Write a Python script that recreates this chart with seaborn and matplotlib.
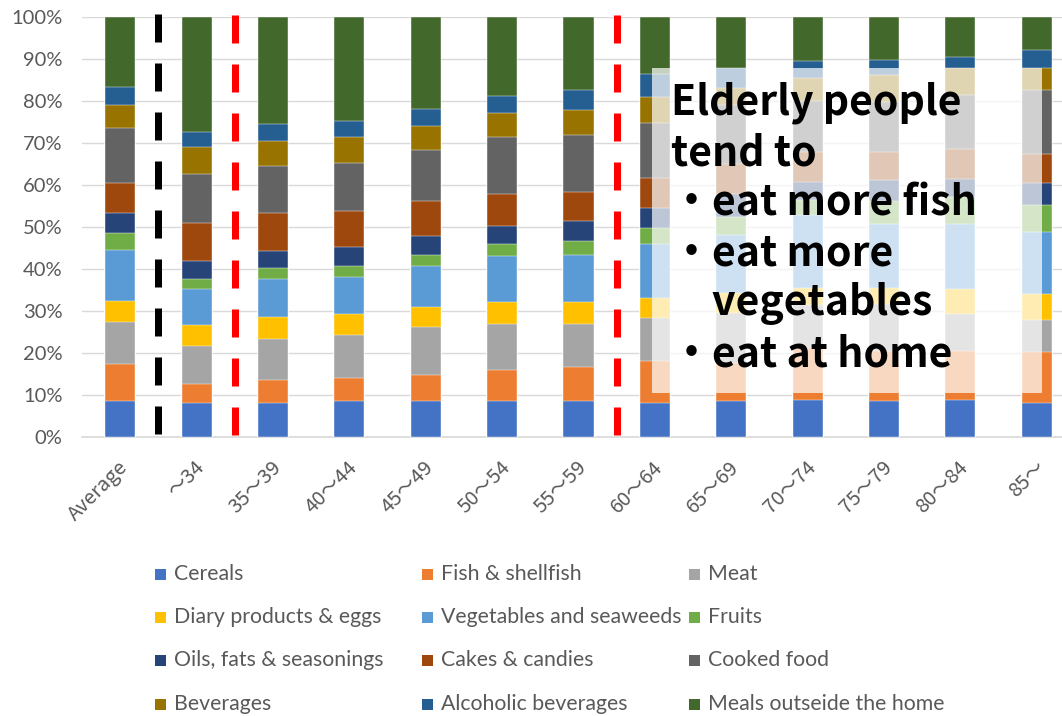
import numpy as np
import pandas as pd
import matplotlib
matplotlib.use("Agg")
import matplotlib.pyplot as plt
from matplotlib.patches import Rectangle
from matplotlib.transforms import ScaledTranslation
import seaborn as sns

# Household food expenditure composition (%) by age group of household head
age_groups = ["Average", "～34", "35～39", "40～44", "45～49", "50～54", "55～59",
              "60～64", "65～69", "70～74", "75～79", "80～84", "85～"]

items = ["Cereals", "Fish & shellfish", "Meat", "Diary products & eggs",
         "Vegetables and seaweeds", "Fruits", "Oils, fats & seasonings",
         "Cakes & candies", "Cooked food", "Beverages", "Alcoholic beverages",
         "Meals outseide the home"]

cereals    = [8.6, 8.1, 8.1, 8.5, 8.6, 8.6, 8.6, 8.0, 8.6, 8.7, 8.5, 8.8, 8.0]
fish       = [8.8, 4.5, 5.3, 5.5, 6.2, 7.3, 8.0, 10.0, 8.9, 12.3, 12.0, 11.7, 12.1]
meat       = [9.8, 9.1, 9.8, 10.3, 11.3, 11.0, 10.3, 10.3, 12.0, 10.3, 11.1, 8.8, 7.7]
dairy      = [5.1, 4.9, 5.2, 4.8, 4.8, 5.1, 5.1, 4.8, 4.8, 4.0, 3.8, 5.9, 6.2]
vegetables = [12.1, 8.6, 9.1, 9.0, 9.8, 11.0, 11.3, 12.8, 13.7, 17.4, 15.3, 15.5, 14.8]
fruits     = [4.1, 2.3, 2.6, 2.6, 2.6, 2.9, 3.4, 3.9, 4.4, 3.6, 5.5, 6.4, 6.3]
oils       = [4.7, 4.4, 4.0, 4.5, 4.4, 4.3, 4.7, 4.7, 5.4, 4.4, 5.0, 4.3, 5.2]
cakes      = [7.3, 8.9, 9.1, 8.5, 8.5, 7.7, 6.9, 7.1, 7.2, 7.1, 6.6, 7.2, 7.1]
cooked     = [12.9, 11.8, 11.3, 11.5, 12.0, 13.4, 13.6, 13.1, 14.0, 12.1, 11.9, 12.7, 15.1]
beverages  = [5.5, 6.4, 5.9, 6.1, 5.8, 5.7, 5.9, 6.1, 4.0, 5.4, 6.4, 6.4, 5.4]
alcohol    = [4.3, 3.6, 4.0, 3.9, 4.1, 4.0, 4.7, 5.5, 4.8, 4.2, 3.6, 2.8, 4.1]
meals_out  = [16.8, 27.4, 25.6, 24.8, 21.9, 19.0, 17.5, 13.7, 12.2, 10.5, 10.3, 9.5, 8.0]

colors = ["#4472C4", "#ED7D31", "#A5A5A5", "#FFC000", "#5B9BD5", "#70AD47",
          "#264478", "#9E480E", "#636363", "#997300", "#255E91", "#43682B"]

yticks = [0, 10, 20, 30, 40, 50, 60, 70, 80, 90, 100]

note_lines = ["Elderly people", "tend to", "・eat more fish", "・eat more",
              "\u3000vegetables", "・eat at home"]

series = [cereals, fish, meat, dairy, vegetables, fruits, oils, cakes,
          cooked, beverages, alcohol, meals_out]

# long-form table with cumulative tops per age group
df = pd.DataFrame({name: vals for name, vals in zip(items, series)}, index=age_groups)
cum = df.cumsum(axis=1)
long = cum.reset_index().melt(id_vars="index", var_name="item", value_name="top")
long = long.rename(columns={"index": "age"})

sns.set_style("white")
plt.rcParams["font.family"] = ["Lato", "Noto Sans CJK JP", "DejaVu Sans"]

W, H = 1062, 716
fig = plt.figure(figsize=(W / 100, H / 100), dpi=100)
ax_left, ax_right = 82, 1075
ax_top, ax_bottom = 16.7, 436.7
ax = fig.add_axes([ax_left / W, 1 - ax_bottom / H,
                   (ax_right - ax_left) / W, (ax_bottom - ax_top) / H])

# stacked bars: draw cumulative totals from the top layer down
for name, col in reversed(list(zip(items, colors))):
    sub = long[long["item"] == name]
    sns.barplot(data=sub, x="age", y="top", order=age_groups, color=col,
                saturation=1, width=0.393, edgecolor="white", linewidth=0.3,
                ax=ax, zorder=3)

ax.set_xlim(-0.5, len(age_groups) - 0.5)
ax.set_ylim(0, 100)
ax.set_xlabel("")
ax.set_ylabel("")
ax.set_yticks(yticks)
ax.set_yticklabels([f"{v}%" for v in yticks])
ax.grid(axis="y", color="#D9D9D9", linewidth=1.0, zorder=0)
ax.set_axisbelow(True)
for s in ["top", "right", "left"]:
    ax.spines[s].set_visible(False)
ax.spines["bottom"].set_color("#D9D9D9")
ax.spines["bottom"].set_linewidth(1.2)
ax.tick_params(axis="both", length=0, labelcolor="#595959", labelsize=14.5)
ax.tick_params(axis="y", pad=14)
ax.tick_params(axis="x", pad=20)

ax.set_xticks(range(len(age_groups)))
ax.set_xticklabels(age_groups)
shift = ScaledTranslation(5 / 100, 0, fig.dpi_scale_trans)
for lbl in ax.get_xticklabels():
    lbl.set_family(["Noto Sans CJK JP"])
    lbl.set_fontsize(14.5)
    lbl.set_rotation(45)
    lbl.set_ha("right")
    lbl.set_va("center")
    lbl.set_rotation_mode("anchor")
    lbl.set_transform(lbl.get_transform() + shift)

# age-bracket separators
lw_pt = 7 * 72 / 100
ax.plot([0.5, 0.5], [100.7, 0.4], color="black", linewidth=lw_pt,
        linestyle=(0, (4, 3)), dash_capstyle="butt",
        clip_on=False, zorder=4)
for xs, top in [(1.5, 100.3), (6.5, 100.3)]:
    ax.plot([xs, xs], [top, 0.0], color="#FF0000", linewidth=lw_pt,
            linestyle=(0, (4, 3)), dash_capstyle="butt", clip_on=False, zorder=4)

# note box
box = Rectangle((652 / W, 1 - 393 / H), (1042 - 652) / W, (393 - 68) / H,
                transform=fig.transFigure, facecolor="white", edgecolor="none",
                alpha=0.7, zorder=10)
fig.add_artist(box)
baselines = [115, 165, 215, 265.7, 315, 366.7]
for line, yb in zip(note_lines, baselines):
    fig.text(671 / W, 1 - yb / H, line, fontsize=29.5, fontweight="bold",
             family=["Noto Sans CJK JP"], color="black", ha="left",
             va="baseline", zorder=11)

# legend laid out row by row, three columns
col_x = [155, 422, 689]
row_y = [574, 617, 660, 704]
for k, (name, col) in enumerate(zip(items, colors)):
    r, c = divmod(k, 3)
    x0, yc = col_x[c], row_y[r]
    fig.add_artist(Rectangle((x0 / W, 1 - (yc + 5.5) / H), 11 / W, 11 / H,
                             transform=fig.transFigure, facecolor=col,
                             edgecolor="none"))
    fig.text((x0 + 19) / W, 1 - yc / H, name, fontsize=15.3, color="#595959",
             ha="left", va="center")

fig.savefig("out.png", dpi=100)
